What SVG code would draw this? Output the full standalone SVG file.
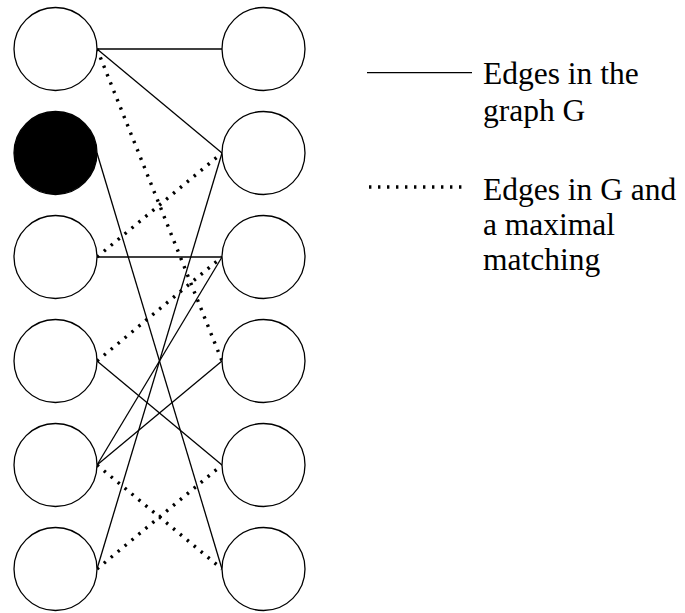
<svg xmlns="http://www.w3.org/2000/svg" width="685" height="613" viewBox="0 0 685 613">
  <style>
    .node { fill: #fff; stroke: #000; stroke-width: 1.3; }
    .node.filled { fill: #000; }
    .edge { stroke: #000; stroke-width: 1.3; fill: none; }
    .match { stroke: #000; stroke-width: 3.4; stroke-dasharray: 2.4 6.6; fill: none; }
    .label { font-size: 31.5px; fill: #000; }
  </style>

  <!-- connectors: edges of G, matched edges drawn dotted -->
  <g id="connectors">
    <line class="edge" x1="97" y1="49" x2="222" y2="49"/>
    <line class="edge" x1="97" y1="49" x2="222" y2="153"/>
    <line class="edge" x1="97" y1="153" x2="222" y2="569"/>
    <line class="edge" x1="97" y1="257" x2="222" y2="257"/>
    <line class="edge" x1="97" y1="361" x2="222" y2="465"/>
    <line class="edge" x1="97" y1="465" x2="222" y2="257"/>
    <line class="edge" x1="97" y1="465" x2="222" y2="361"/>
    <line class="edge" x1="97" y1="569" x2="222" y2="153"/>

    <line class="match" x1="97" y1="49" x2="222" y2="361"/>
    <line class="match" x1="97" y1="257" x2="222" y2="153"/>
    <line class="match" x1="97" y1="361" x2="222" y2="257"/>
    <line class="match" x1="97" y1="465" x2="222" y2="569"/>
    <line class="match" x1="97" y1="569" x2="222" y2="465"/>
  </g>

  <!-- left vertex set -->
  <g id="L1"><circle class="node" cx="55.5" cy="49" r="41.5"/></g>
  <g id="L2"><circle class="node filled" cx="55.5" cy="153" r="41.5"/></g>
  <g id="L3"><circle class="node" cx="55.5" cy="257" r="41.5"/></g>
  <g id="L4"><circle class="node" cx="55.5" cy="361" r="41.5"/></g>
  <g id="L5"><circle class="node" cx="55.5" cy="465" r="41.5"/></g>
  <g id="L6"><circle class="node" cx="55.5" cy="569" r="41.5"/></g>

  <!-- right vertex set -->
  <g id="R1"><circle class="node" cx="263.5" cy="49" r="41.5"/></g>
  <g id="R2"><circle class="node" cx="263.5" cy="153" r="41.5"/></g>
  <g id="R3"><circle class="node" cx="263.5" cy="257" r="41.5"/></g>
  <g id="R4"><circle class="node" cx="263.5" cy="361" r="41.5"/></g>
  <g id="R5"><circle class="node" cx="263.5" cy="465" r="41.5"/></g>
  <g id="R6"><circle class="node" cx="263.5" cy="569" r="41.5"/></g>

  <!-- legend -->
  <g id="legend" font-family="'Liberation Serif', 'Times New Roman', serif">
    <line class="edge" x1="367" y1="72.7" x2="472" y2="72.7"/>
    <text class="label" x="483" y="84">Edges in the</text>
    <text class="label" x="483" y="120.5">graph G</text>

    <line class="match" x1="369" y1="187" x2="466" y2="187" stroke-dasharray="2 6.5"/>
    <text class="label" x="483" y="200">Edges in G and</text>
    <text class="label" x="483" y="235">a maximal</text>
    <text class="label" x="483" y="270">matching</text>
  </g>
</svg>
